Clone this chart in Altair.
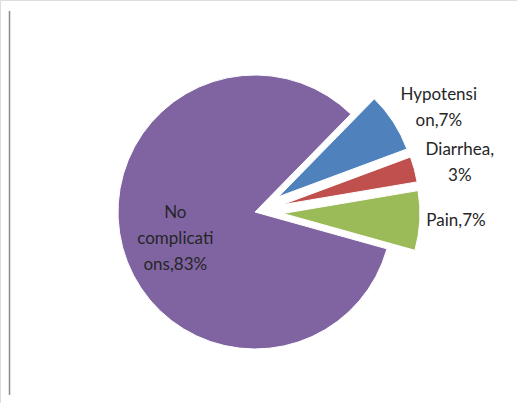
import altair as alt
import pandas as pd

categories = ["Hypotension", "Diarrhea", "Pain", "No complications"]
values = [7, 3, 7, 83]
labels = ["Hypotensi\non,7%", "Diarrhea,\n3%", "Pain,7%", "No\ncomplicati\nons,83%"]
exploded = [1, 1, 1, 0]
colors = ["#4F81BD", "#C0504D", "#9BBB59", "#8064A2"]

df = pd.DataFrame({"category": categories, "value": values, "label": labels,
                   "exploded": exploded, "order": list(range(len(categories)))})

CX, CY, R = 255, 212, 137
START = 44.4 * 3.141592653589793 / 180
EXPLODE = 28
LH = 26        # label line height
CHW = 4.6      # half of approx char width
GAP = 4

base = alt.Chart(df).transform_joinaggregate(
    total="sum(value)"
).transform_window(
    cum="sum(value)", sort=[alt.SortField("order")], frame=[None, 0]
).transform_calculate(
    t1=f"{START} + 2*PI*datum.cum/datum.total",
    t0=f"{START} + 2*PI*(datum.cum - datum.value)/datum.total",
    nl="length(split(datum.label, '\\n'))",
    mc="max(length(split(datum.label, '\\n')[0]), length(split(datum.label, '\\n')[1] || ''))",
).transform_calculate(
    mid="(datum.t0 + datum.t1)/2",
).transform_calculate(
    px=f"{CX} + datum.exploded*{EXPLODE}*sin(datum.mid)",
    py=f"{CY} - datum.exploded*{EXPLODE}*cos(datum.mid)",
    ex=f"{CX} + ({EXPLODE}+{R})*sin(datum.mid)",
    ey=f"{CY} - ({EXPLODE}+{R})*cos(datum.mid)",
).transform_calculate(
    cxl=f"datum.exploded ? datum.ex + {GAP} + {CHW}*datum.mc : {CX} + 84*sin(datum.mid - 0.06)",
    cyl=f"datum.exploded ? datum.ey - datum.nl*{LH}/2*cos(datum.mid) : {CY} - 84*cos(datum.mid - 0.06)",
).transform_calculate(
    ly=f"datum.cyl - (datum.nl - 1)*{LH}/2",
)

pie = base.mark_arc(outerRadius=R, stroke="white", strokeWidth=1).encode(
    x=alt.X("px:Q", scale=None),
    y=alt.Y("py:Q", scale=None),
    theta=alt.Theta("t0:Q", scale=None),
    theta2="t1:Q",
    color=alt.Color("category:N", scale=alt.Scale(domain=categories, range=colors), legend=None),
)

text = base.mark_text(font="Lato", fontSize=17, color="#262626", lineBreak="\n",
                      align="center", baseline="middle", lineHeight=LH).encode(
    x=alt.X("cxl:Q", scale=None),
    y=alt.Y("ly:Q", scale=None),
    text="label:N",
)

frame = alt.Chart(df).mark_rule(color="#8c8c8c", strokeWidth=1.5).encode(
    x=alt.value(9.5), y=alt.value(11), y2=alt.value(395)
).transform_filter("datum.order == 0")

chart = alt.layer(frame, pie, text).properties(
    width=517, height=403, padding=0, autosize=alt.AutoSizeParams(type="none")
).configure_view(stroke=None).configure(background="white")

chart.save("out.html", embed_options={"renderer": "svg", "actions": False})
